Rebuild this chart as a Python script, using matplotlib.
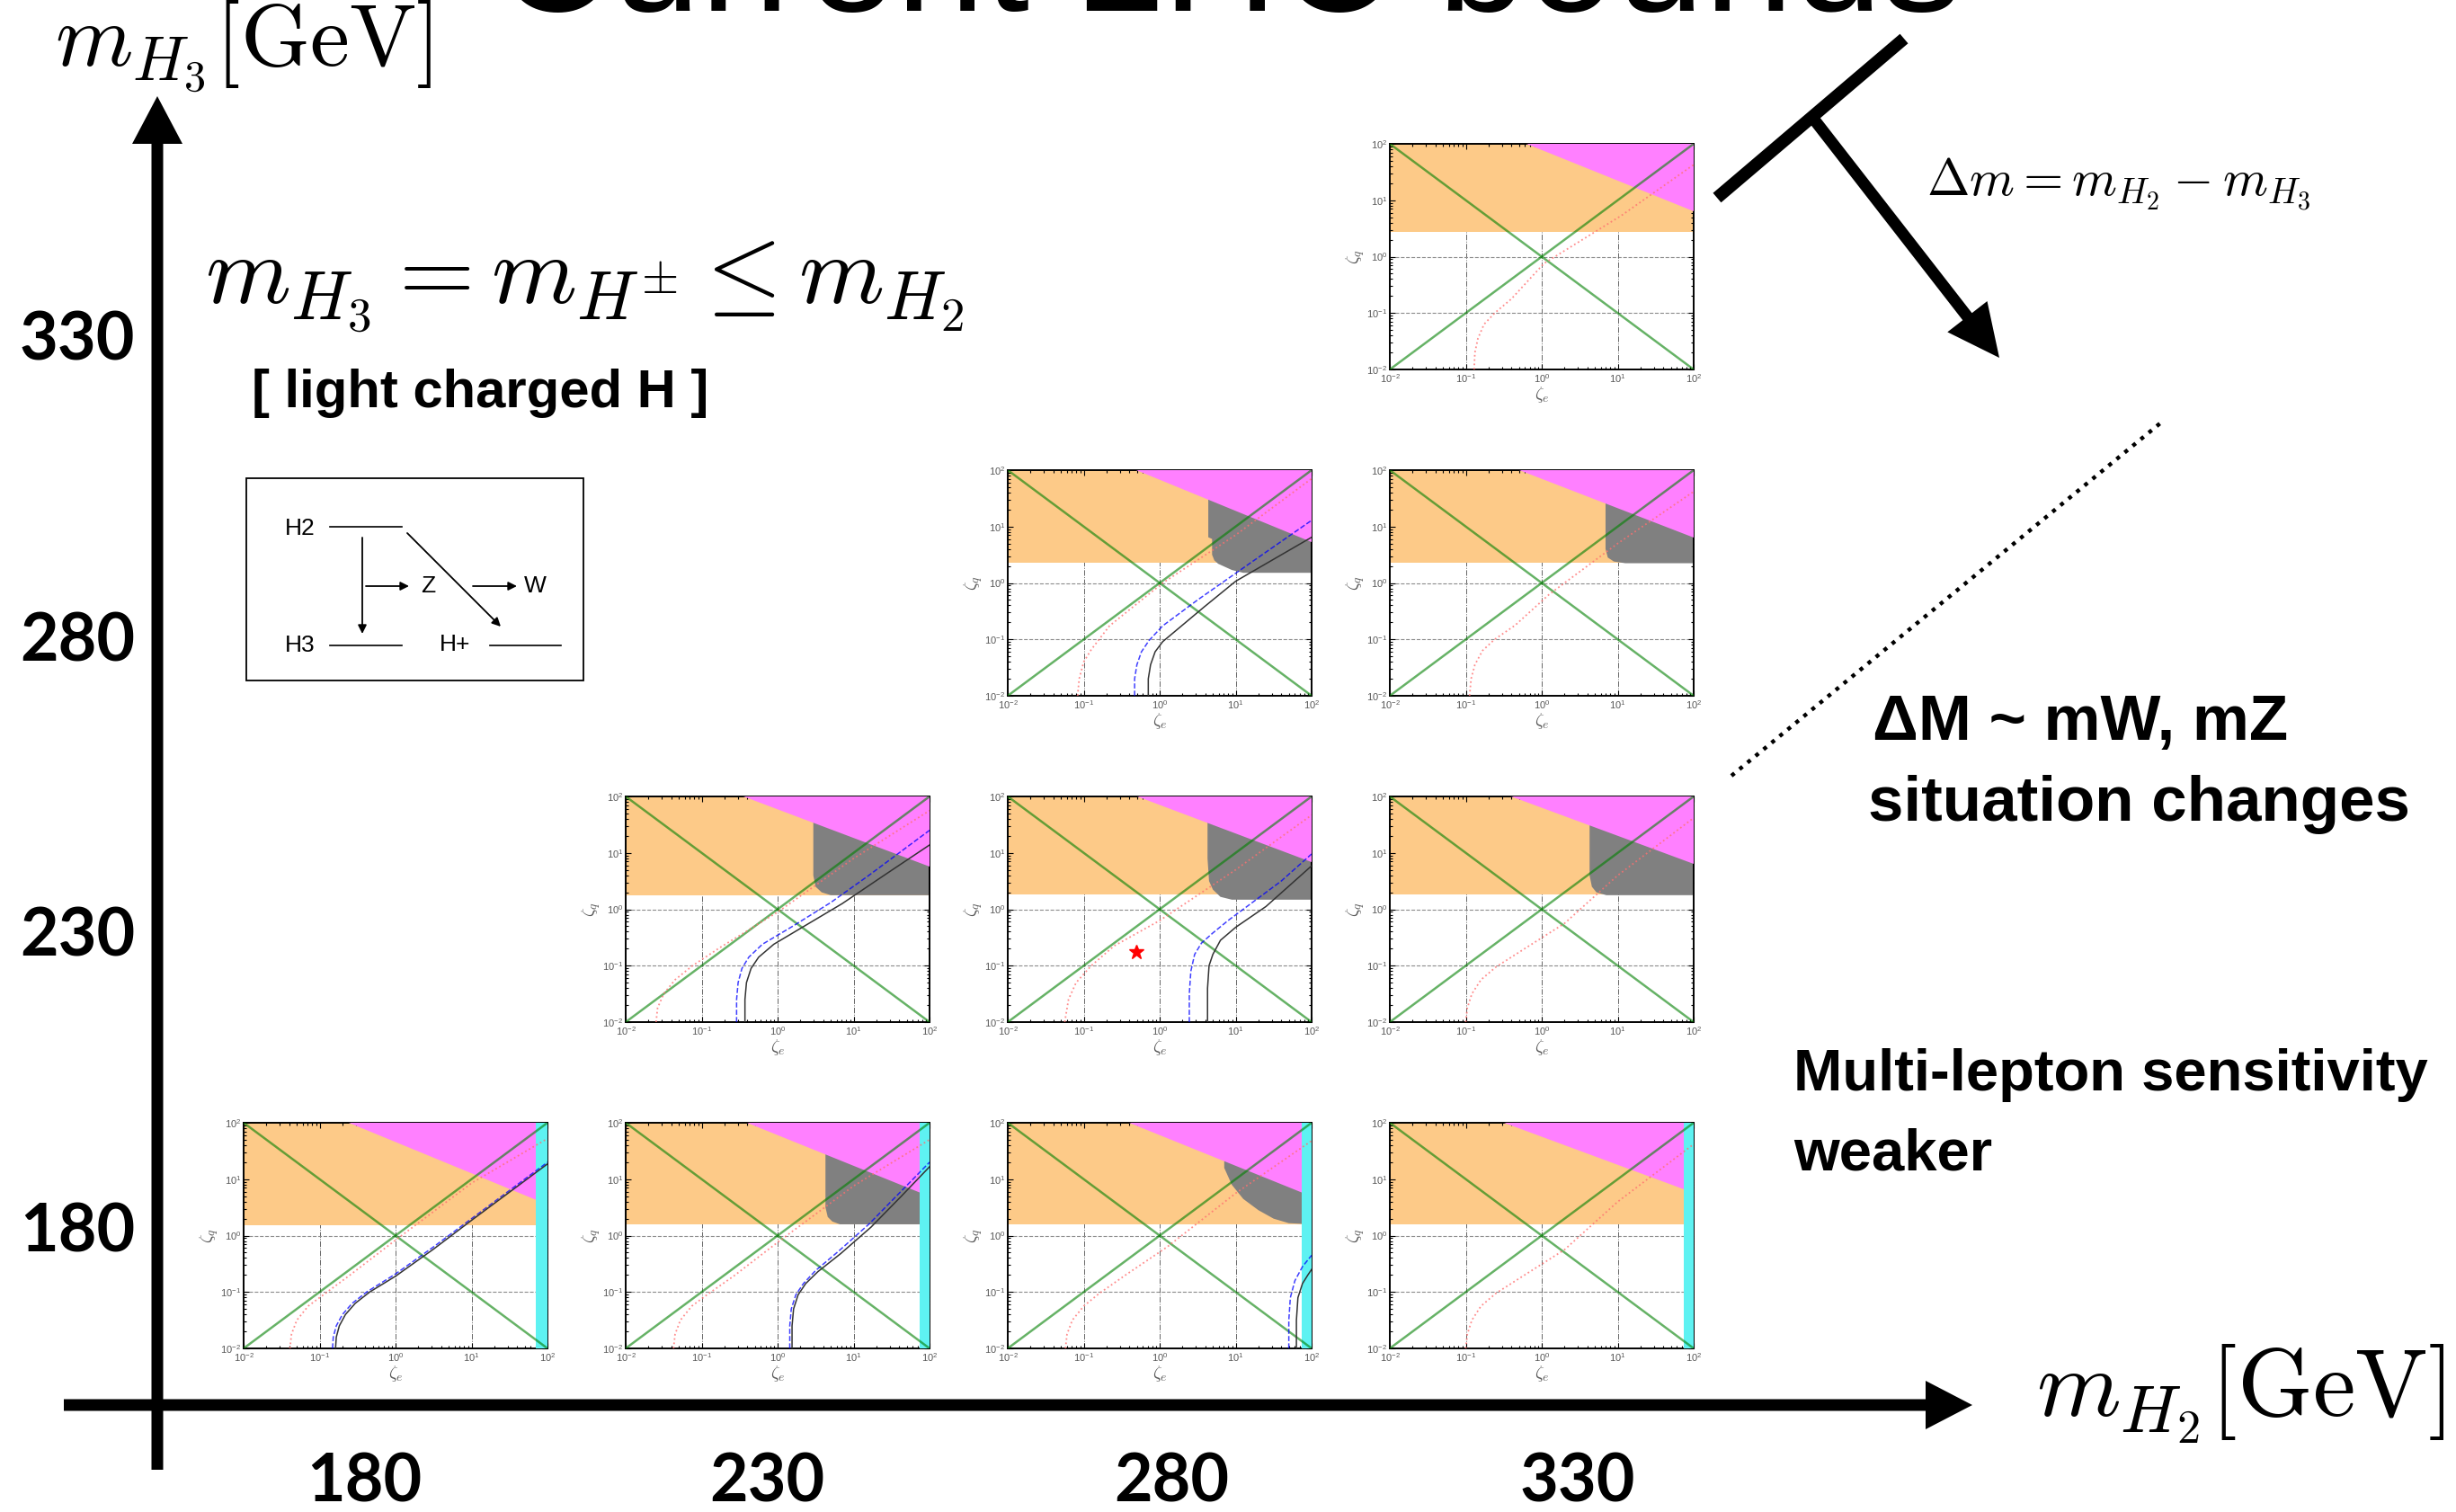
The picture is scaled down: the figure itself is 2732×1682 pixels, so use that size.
import numpy as np
import matplotlib.pyplot as plt
from matplotlib.patches import FancyArrow, Rectangle

plt.rcParams['mathtext.fontset'] = 'cm'
plt.rcParams['font.family'] = ['Liberation Sans', 'DejaVu Sans']

W, H = 2732, 1682

# scan grid (GeV)
m_H2 = [180, 230, 280, 330]
m_H3 = [180, 230, 280, 330]
panels = [(180, 180), (230, 180), (280, 180), (330, 180),
          (230, 230), (280, 230), (330, 230),
          (280, 280), (330, 280),
          (330, 330)]

# everything below is log10(zeta)
orange_lo = {(180, 180): 0.18, (230, 180): 0.2, (280, 180): 0.2, (330, 180): 0.2,
             (230, 230): 0.25, (280, 230): 0.27, (330, 230): 0.27,
             (280, 280): 0.36, (330, 280): 0.36, (330, 330): 0.44}

# magenta edge: where it leaves the top (x), where it hits the right side (y)
magenta_edge = {(180, 180): (-0.62, 0.55), (230, 180): (-0.4, 0.7), (280, 180): (-0.4, 0.7),
                (330, 180): (-0.5, 0.75), (230, 230): (-0.45, 0.75), (280, 230): (-0.30, 0.83),
                (330, 230): (-0.4, 0.8), (280, 280): (-0.31, 0.73), (330, 280): (-0.3, 0.8),
                (330, 330): (-0.2, 0.81)}

cyan_from = {(180, 180): 1.85, (230, 180): 1.87, (280, 180): 1.87, (330, 180): 1.87}

gray_region = {
    (230, 180): ([0.63, 0.63, 0.66, 0.72, 0.82, 2, 2], [2, 0.5, 0.33, 0.25, 0.2, 0.2, 2]),
    (280, 180): ([0.85, 0.85, 0.95, 1.1, 1.3, 1.5, 1.7, 2, 2], [2, 1.2, 0.9, 0.65, 0.45, 0.3, 0.22, 0.2, 2]),
    (230, 230): ([0.47, 0.47, 0.5, 0.58, 0.7, 2, 2], [2, 0.6, 0.4, 0.3, 0.25, 0.25, 2]),
    (280, 230): ([0.63, 0.63, 0.65, 0.7, 0.8, 0.95, 2, 2], [2, 0.9, 0.5, 0.35, 0.22, 0.17, 0.17, 2]),
    (330, 230): ([0.63, 0.63, 0.66, 0.72, 0.85, 2, 2], [2, 0.6, 0.4, 0.3, 0.25, 0.25, 2]),
    (280, 280): ([0.64, 0.64, 0.69, 0.69, 0.72, 0.77, 0.95, 1.1, 2, 2],
                 [2, 0.81, 0.78, 0.5, 0.4, 0.34, 0.23, 0.18, 0.18, 2]),
    (330, 280): ([0.84, 0.84, 0.87, 0.95, 1.1, 2, 2], [2, 0.6, 0.45, 0.38, 0.35, 0.35, 2]),
}

red_curve = {
    (180, 180): ([-1.39, -1.37, -1.3, -1.15, -0.94, -0.6, 0, 1, 2], [-2, -1.75, -1.5, -1.25, -1.04, -0.7, -0.08, 0.93, 1.72]),
    (230, 180): ([-1.37, -1.35, -1.28, -1.13, -0.92, -0.58, 0, 1, 2], [-2, -1.75, -1.5, -1.25, -1.04, -0.72, -0.12, 0.88, 1.7]),
    (280, 180): ([-1.24, -1.22, -1.15, -1.0, -0.8, -0.45, 0.1, 1, 2], [-2, -1.75, -1.5, -1.25, -1.03, -0.7, -0.2, 0.75, 1.68]),
    (330, 180): ([-1.0, -0.98, -0.92, -0.8, -0.6, -0.25, 0.3, 1, 2], [-2, -1.75, -1.5, -1.25, -1.02, -0.72, -0.25, 0.6, 1.62]),
    (230, 230): ([-1.6, -1.58, -1.5, -1.35, -1.12, -0.76, 0, 1, 2], [-2, -1.75, -1.5, -1.25, -1.0, -0.68, -0.05, 0.9, 1.75]),
    (280, 230): ([-1.25, -1.2, -1.1, -0.9, -0.6, 0, 1, 2], [-2, -1.6, -1.3, -1.0, -0.65, -0.2, 0.7, 1.67]),
    (330, 230): ([-1.0, -0.98, -0.92, -0.8, -0.6, -0.25, 0.3, 1, 2], [-2, -1.75, -1.5, -1.25, -1.02, -0.72, -0.25, 0.6, 1.62]),
    (280, 280): ([-1.08, -1.06, -1.0, -0.9, -0.66, 0.04, 1, 2], [-2, -1.7, -1.4, -1.18, -0.76, 0.0, 0.85, 1.85]),
    (330, 280): ([-0.95, -0.93, -0.88, -0.78, -0.62, -0.35, 0.1, 1, 2], [-2, -1.7, -1.45, -1.2, -1.0, -0.75, -0.2, 0.7, 1.62]),
    (330, 330): ([-0.89, -0.88, -0.84, -0.76, -0.62, -0.4, 0.03, 1.05, 2], [-2, -1.7, -1.45, -1.2, -1.0, -0.75, -0.12, 0.73, 1.63]),
}

blue_curve = {
    (180, 180): ([-0.83, -0.82, -0.78, -0.7, -0.57, -0.38, 0, 0.5, 1, 1.5, 2], [-2, -1.8, -1.6, -1.4, -1.2, -1.0, -0.68, -0.2, 0.3, 0.8, 1.3]),
    (230, 180): ([0.16, 0.16, 0.18, 0.24, 0.34, 0.5, 0.8, 1.2, 1.6, 2.0], [-2, -1.6, -1.3, -1.05, -0.85, -0.62, -0.28, 0.2, 0.75, 1.3]),
    (280, 180): ([1.7, 1.7, 1.72, 1.78, 1.88, 2.0], [-2, -1.5, -1.1, -0.8, -0.55, -0.35]),
    (230, 230): ([-0.54, -0.54, -0.52, -0.47, -0.38, -0.2, 0.2, 0.7, 1.2, 2.0], [-2, -1.6, -1.3, -1.05, -0.85, -0.62, -0.3, 0.12, 0.6, 1.4]),
    (280, 230): ([0.39, 0.39, 0.41, 0.46, 0.55, 0.7, 0.9, 1.2, 1.6, 2.0], [-2, -1.5, -1.1, -0.8, -0.6, -0.42, -0.2, 0.1, 0.5, 0.98]),
    (280, 280): ([-0.33, -0.33, -0.3, -0.24, -0.14, 0.04, 0.5, 1.2, 2.0], [-2, -1.7, -1.45, -1.22, -1.02, -0.76, -0.3, 0.36, 1.11]),
}

black_curve = {
    (180, 180): ([-0.79, -0.78, -0.74, -0.66, -0.53, -0.34, 0, 0.5, 1, 1.5, 2], [-2, -1.8, -1.6, -1.4, -1.2, -1.0, -0.72, -0.24, 0.27, 0.77, 1.27]),
    (230, 180): ([0.19, 0.19, 0.21, 0.27, 0.37, 0.53, 0.83, 1.23, 1.63, 2.0], [-2, -1.6, -1.3, -1.05, -0.85, -0.64, -0.32, 0.15, 0.7, 1.22]),
    (280, 180): ([1.8, 1.8, 1.82, 1.88, 1.95, 2.0], [-2, -1.5, -1.1, -0.85, -0.7, -0.6]),
    (230, 230): ([-0.43, -0.43, -0.41, -0.35, -0.25, -0.05, 0.35, 0.85, 1.4, 2.0], [-2, -1.6, -1.3, -1.05, -0.85, -0.62, -0.3, 0.1, 0.6, 1.14]),
    (280, 230): ([0.63, 0.63, 0.65, 0.7, 0.8, 1.0, 1.4, 2.0], [-2, -1.4, -1.0, -0.8, -0.55, -0.32, 0.05, 0.77]),
    (280, 280): ([-0.15, -0.15, -0.12, -0.06, 0.04, 0.2, 0.59, 1.0, 2.0], [-2, -1.7, -1.45, -1.22, -1.04, -0.86, -0.42, 0.03, 0.81]),
}

# benchmark point
star = {(280, 230): (-0.31, -0.76)}

xtick_labels = ['180', '230', '280', '330']
ytick_labels = ['180', '230', '280', '330']

ORANGE = '#fdca88'
MAGENTA = '#ff80ff'
GRAY = '#808080'
CYAN = '#5ef2f2'

fig = plt.figure(figsize=(W / 100, H / 100), dpi=100)
fig.patch.set_facecolor('white')

# pixel-space layer for the arrows and annotations
ov = fig.add_axes([0, 0, 1, 1])
ov.set_xlim(0, W)
ov.set_ylim(H, 0)
ov.axis('off')

ov.text(1367, 12, 'Current LHC bounds', ha='center', va='baseline', fontsize=128)

# big mass axes
ov.add_patch(FancyArrow(175, 1635, 0, 107 - 1635, width=13, head_width=56, head_length=53,
                        length_includes_head=True, color='black', lw=0))
ov.add_patch(FancyArrow(71, 1563, 2194 - 71, 0, width=13, head_width=54, head_length=52,
                        length_includes_head=True, color='black', lw=0))
ov.text(61, 74, r'$m_{H_3}[\mathrm{GeV}]$', fontsize=71, ha='left', va='baseline')
ov.text(2265, 1575, r'$m_{H_2}[\mathrm{GeV}]$', fontsize=77, ha='left', va='baseline')

for lab, xc in zip(xtick_labels, [405, 853, 1303, 1755]):
    ov.text(xc, 1649, lab, fontsize=53, family='Lato', weight='bold', ha='center', va='center')
for lab, yc in zip(ytick_labels, [1371, 1042, 714, 379]):
    ov.text(86, yc, lab, fontsize=53, family='Lato', weight='bold', ha='center', va='center')

ov.text(228, 337, r'$m_{H_3} = m_{H^{\pm}} \leq m_{H_2}$', fontsize=78, ha='left', va='baseline')
ov.text(280, 453, '[ light charged H ]', fontsize=43, weight='bold', ha='left', va='baseline')

# decay sketch
ov.add_patch(Rectangle((274, 532), 375, 225, fill=False, lw=1.3, ec='black'))
for txt, xc, yc in [('H2', 334, 588), ('H3', 334, 718), ('H+', 506, 717), ('Z', 476, 652), ('W', 595, 652)]:
    ov.text(xc, yc, txt, fontsize=19, ha='center', va='center')
for x0, x1, y0 in [(367, 447, 586), (367, 447, 718), (545, 624, 718)]:
    ov.plot([x0, x1], [y0, y0], color='black', lw=1.2)
arrow_kw = dict(arrowstyle='-|>', lw=1.3, color='black', mutation_scale=14, shrinkA=0, shrinkB=0)
for tail, head in [((403, 598), (403, 705)), ((407, 652), (455, 652)),
                   ((453, 593), (557, 697)), ((526, 652), (575, 652))]:
    ov.annotate('', xy=head, xytext=tail, arrowprops=arrow_kw)

# mass splitting direction
ov.plot([1910, 2118], [220, 43], color='black', lw=10, solid_capstyle='butt')
ov.add_patch(FancyArrow(2018, 133, 2224 - 2018, 398 - 133, width=13, head_width=56, head_length=58,
                        length_includes_head=True, color='black', lw=0))
ov.text(2143, 217, r'$\Delta m = m_{H_2} - m_{H_3}$', fontsize=41, ha='left', va='baseline')

ov.plot([1926, 2404], [863, 470], color='black', lw=3.2, dashes=(1, 1.6), dash_capstyle='butt')
ov.text(2083, 823, 'ΔM ~ mW, mZ', fontsize=51, weight='bold', ha='left', va='baseline')
ov.text(2078, 913, 'situation changes', fontsize=51, weight='bold', ha='left', va='baseline')
ov.text(1995, 1213, 'Multi-lepton sensitivity', fontsize=47, weight='bold', ha='left', va='baseline')
ov.text(1995, 1302, 'weaker', fontsize=47, weight='bold', ha='left', va='baseline')


def pw(v):
    return np.power(10.0, v)


for key in panels:
    i = m_H2.index(key[0])
    j = m_H3.index(key[1])
    left = 271 + 425 * i
    top = 1249 - 363 * j
    ax = fig.add_axes([left / W, 1 - (top + 251) / H, 338 / W, 251 / H])
    ax.set_xscale('log')
    ax.set_yscale('log')
    ax.set_xlim(1e-2, 1e2)
    ax.set_ylim(1e-2, 1e2)

    for v in [0.1, 1, 10]:
        ax.axvline(v, color='0.4', lw=0.7, ls='-.', zorder=0)
        ax.axhline(v, color='0.55', lw=0.8, ls='--', zorder=0)

    ax.fill_between([1e-2, 1e2], pw(orange_lo[key]), 1e2, color=ORANGE, lw=0, zorder=1)
    if key in gray_region:
        gx, gy = gray_region[key]
        ax.fill(pw(np.array(gx)), pw(np.array(gy)), color=GRAY, lw=0, zorder=2)
    mx, my = magenta_edge[key]
    ax.fill(pw(np.array([mx, 2, 2])), pw(np.array([2, 2, my])), color=MAGENTA, lw=0, zorder=3)
    if key in cyan_from:
        ax.axvspan(pw(cyan_from[key]), 1e2, color=CYAN, lw=0, zorder=4)

    ax.plot([1e-2, 1e2], [1e-2, 1e2], color='green', alpha=0.6, lw=1.8, zorder=5)
    ax.plot([1e-2, 1e2], [1e2, 1e-2], color='green', alpha=0.6, lw=1.8, zorder=5)

    rx, ry = red_curve[key]
    ax.plot(pw(np.array(rx)), pw(np.array(ry)), color='#ff7070', alpha=0.8, lw=1.3, ls=':', zorder=6)
    if key in blue_curve:
        bx, by = blue_curve[key]
        ax.plot(pw(np.array(bx)), pw(np.array(by)), color='blue', alpha=0.75, lw=1.1, ls='--', zorder=7)
    if key in black_curve:
        kx, ky = black_curve[key]
        ax.plot(pw(np.array(kx)), pw(np.array(ky)), color='0.2', lw=1.1, zorder=7)
    if key in star:
        sx, sy = star[key]
        ax.plot(pw(sx), pw(sy), marker='*', color='red', ms=12, zorder=8)

    ax.tick_params(which='both', direction='in', top=True, right=True, labelsize=8,
                   labelcolor='0.35', color='black', width=0.8, pad=2)
    ax.tick_params(which='major', length=4)
    ax.tick_params(which='minor', length=2.5)
    ax.set_xticks([1e-2, 1e-1, 1, 10, 1e2])
    ax.set_yticks([1e-2, 1e-1, 1, 10, 1e2])
    ax.set_xlabel(r'$\zeta_e$', fontsize=14, color='0.35', labelpad=0)
    ax.set_ylabel(r'$\zeta_q$', fontsize=14, color='0.35', labelpad=0)
    for s in ax.spines.values():
        s.set_linewidth(1.4)

fig.savefig('out.png', dpi=100, facecolor='white')
